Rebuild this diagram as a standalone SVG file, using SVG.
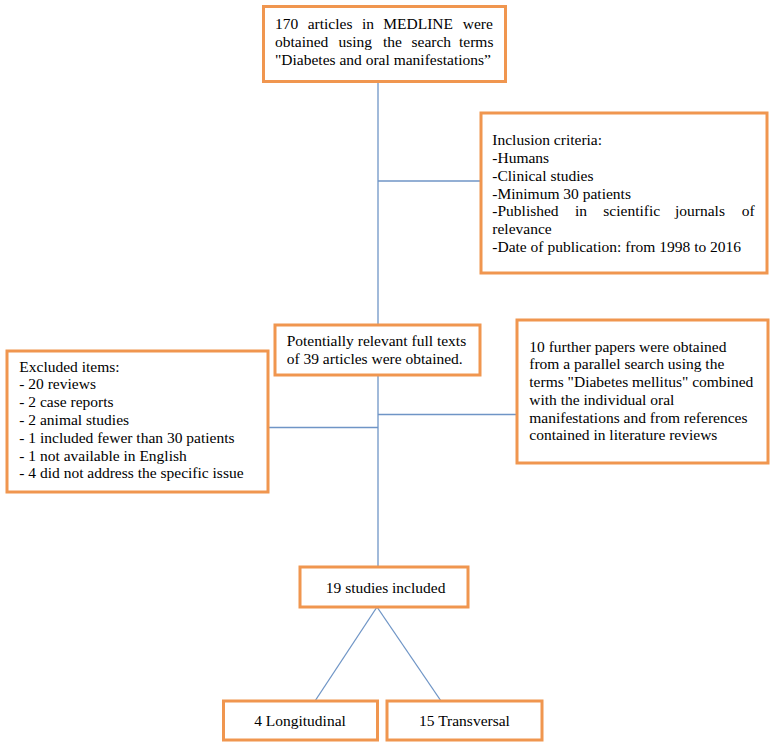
<svg xmlns="http://www.w3.org/2000/svg" width="772" height="745" viewBox="0 0 772 745">
<style>
.box{fill:#fff;stroke:#F0964F;stroke-width:3}
.t{font-family:"Liberation Serif","Times New Roman",serif;font-size:15.5px;fill:#000}
.c{stroke:#6F95C6;stroke-width:1.3;fill:none}
</style>
<rect width="772" height="745" fill="#fff"/>
<g id="connectors">
<line class="c" x1="378" y1="83" x2="378" y2="325"/>
<line class="c" x1="378" y1="181" x2="481" y2="181"/>
<line class="c" x1="378" y1="375" x2="378" y2="567"/>
<line class="c" x1="378" y1="414.5" x2="517" y2="414.5"/>
<line class="c" x1="268" y1="427.5" x2="378" y2="427.5"/>
<line class="c" x1="377" y1="607" x2="315" y2="701"/>
<line class="c" x1="377" y1="607" x2="441" y2="701"/>
</g>
<g id="n-search">
<rect class="box" x="263.5" y="6.5" width="242" height="75"/>
<text class="t" y="28.5"><tspan x="275">170</tspan><tspan x="307.7">articles</tspan><tspan x="361.9">in</tspan><tspan x="383.3">MEDLINE</tspan><tspan x="462.7">were</tspan></text>
<text class="t" y="46.5"><tspan x="275">obtained</tspan><tspan x="338.5">using</tspan><tspan x="383">the</tspan><tspan x="411.5">search</tspan><tspan x="459">terms</tspan></text>
<text class="t" x="275" y="64.5">"Diabetes and oral manifestations”</text>
</g>
<g id="n-inclusion">
<rect class="box" x="481" y="113" width="286" height="160"/>
<text class="t" x="492.3" y="145">Inclusion criteria:</text>
<text class="t" x="492.3" y="163">-Humans</text>
<text class="t" x="492.3" y="181">-Clinical studies</text>
<text class="t" x="492.3" y="198.5">-Minimum 30 patients</text>
<text class="t" y="216"><tspan x="492.3">-Published</tspan><tspan x="575">in</tspan><tspan x="603.3">scientific</tspan><tspan x="675">journals</tspan><tspan x="741.7">of</tspan></text>
<text class="t" x="492.3" y="234">relevance</text>
<text class="t" x="492.3" y="252">-Date of publication: from 1998 to 2016</text>
</g>
<g id="n-fulltexts">
<rect class="box" x="275" y="325" width="205" height="50"/>
<text class="t" x="286.7" y="346">Potentially relevant full texts</text>
<text class="t" x="286.7" y="364">of 39 articles were obtained.</text>
</g>
<g id="n-excluded">
<rect class="box" x="7" y="351" width="261" height="141"/>
<text class="t" x="19.3" y="371.5">Excluded items:</text>
<text class="t" x="19.3" y="389.3">- 20 reviews</text>
<text class="t" x="19.3" y="407.1">- 2 case reports</text>
<text class="t" x="19.3" y="424.9">- 2 animal studies</text>
<text class="t" x="19.3" y="442.7">- 1 included fewer than 30 patients</text>
<text class="t" x="19.3" y="460.5">- 1 not available in English</text>
<text class="t" x="19.3" y="478.3">- 4 did not address the specific issue</text>
</g>
<g id="n-further">
<rect class="box" x="517" y="320" width="251" height="143"/>
<text class="t" x="529.3" y="351.7">10 further papers were obtained</text>
<text class="t" x="529.3" y="369.4">from a parallel search using the</text>
<text class="t" x="529.3" y="387.1">terms "Diabetes mellitus" combined</text>
<text class="t" x="529.3" y="404.8">with the individual oral</text>
<text class="t" x="529.3" y="422.5">manifestations and from references</text>
<text class="t" x="529.3" y="440.2">contained in literature reviews</text>
</g>
<g id="n-included">
<rect class="box" x="300" y="567" width="168" height="40"/>
<text class="t" x="385.6" y="592.7" text-anchor="middle">19 studies included</text>
</g>
<g id="n-longitudinal">
<rect class="box" x="223.5" y="701" width="154" height="39"/>
<text class="t" x="300" y="725.5" text-anchor="middle">4 Longitudinal</text>
</g>
<g id="n-transversal">
<rect class="box" x="387" y="701" width="155" height="39"/>
<text class="t" x="464.5" y="725.5" text-anchor="middle">15 Transversal</text>
</g>
</svg>
